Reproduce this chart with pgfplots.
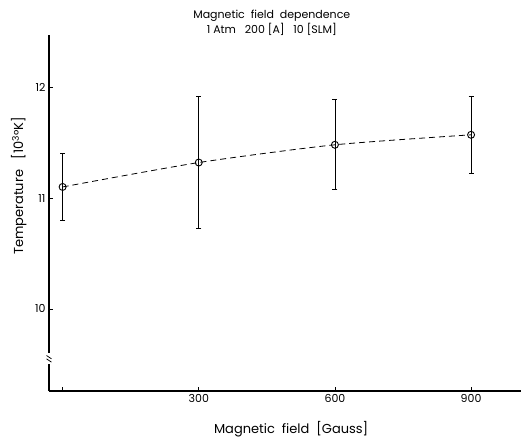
\documentclass[border=0pt]{standalone}
\usepackage{fontspec}
\setmainfont{Poppins}
\usepackage{pgfplots}
\pgfplotsset{compat=1.18}

\begin{document}
\begin{tikzpicture}
  \useasboundingbox (-49pt,-49pt) rectangle (474pt,391pt);
  \begin{axis}[
    at={(0,0)}, anchor=south west,
    scale only axis,
    width=472pt, height=356pt,
    axis lines=left,
    axis line style={line width=1.1pt, -},
    xmin=-30, xmax=1010,
    ymin=9.26, ymax=12.47,
    xtick={0,300,600,900},
    xticklabels={,300,600,900},
    ytick={10,11,12},
    tick align=inside,
    major tick length=4pt,
    tick style={line width=0.8pt, black},
    /pgf/number format/assume math mode=true,
    ticklabel style={font=\fontsize{11}{13}\selectfont},
    xlabel={Magnetic \ field \ [Gauss]},
    ylabel={Temperature \ \ [10\textsuperscript{3}°K]},
    xlabel style={at={(axis description cs:0.513,-0.106)}, anchor=center, font=\fontsize{13}{15}\selectfont},
    ylabel style={at={(axis description cs:-0.064,0.576)}, anchor=center, rotate=0, font=\fontsize{13}{15}\selectfont},
    title={Magnetic \ field \ dependence\\1 Atm \ \ 200 [A] \ \ 10 [SLM]},
    title style={at={(axis description cs:0.472,1.018)}, anchor=center, align=center, font=\fontsize{11}{15}\selectfont},
    clip=false
  ]
    % dashed trend through the means
    \addplot[black, line width=0.8pt, dash pattern=on 6pt off 4pt, smooth, tension=0.4]
      coordinates {(0,11.10) (300,11.32) (600,11.48) (900,11.57)};
    % points with asymmetric error bars
    \addplot[black, only marks, mark=o, mark size=3.5pt, mark options={line width=0.9pt, fill=white},
      error bars/.cd, y dir=both, y explicit,
      error bar style={line width=0.7pt},
      error mark options={rotate=90, mark size=2.5pt, line width=0.9pt}]
      coordinates {
        (0,11.10)   += (0,0.30) -= (0,0.30)
        (300,11.32) += (0,0.60) -= (0,0.59)
        (600,11.48) += (0,0.41) -= (0,0.40)
        (900,11.57) += (0,0.35) -= (0,0.35)
      };
    % axis break mark
    \fill[white] ([xshift=-2pt]axis cs:-30,9.60) rectangle ([xshift=2pt]axis cs:-30,9.50);
    \draw[line width=0.8pt] ([xshift=-2.5pt]axis cs:-30,9.58) -- ([xshift=2.5pt]axis cs:-30,9.55);
    \draw[line width=0.8pt] ([xshift=-2.5pt]axis cs:-30,9.55) -- ([xshift=2.5pt]axis cs:-30,9.52);
  \end{axis}
\end{tikzpicture}
\end{document}
